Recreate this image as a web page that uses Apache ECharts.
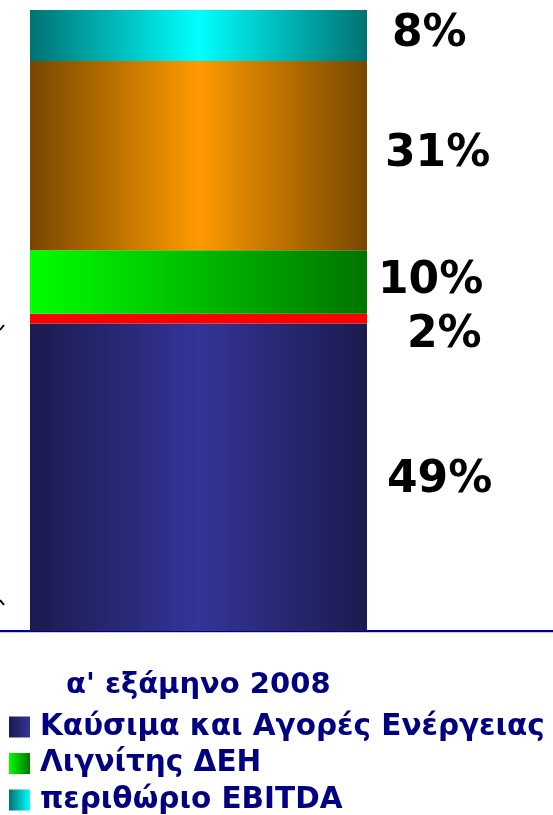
<!DOCTYPE html>
<html>
<head>
<meta charset="utf-8">
<script src="https://cdn.jsdelivr.net/npm/echarts@6/dist/echarts.min.js"></script>
<style>
  html, body { margin: 0; padding: 0; background: #fff; }
  #chart { width: 553px; height: 815px; }
</style>
</head>
<body>
<div id="chart"></div>
<script>
  // data (bottom to top)
  const categories = ['α\' εξάμηνο 2008']
  const seriesNames = ['Καύσιμα και Αγορές Ενέργειας', 'Λοιπά', 'Λιγνίτης ΔΕΗ', 'Λοιπό κόστος', 'περιθώριο EBITDA']
  const seriesValues = [49.5, 1.6, 10.2, 30.5, 8.2]
  const labelTexts = ['49%', '2%', '10%', '31%', '8%']
  const legendNames = ['Καύσιμα και Αγορές Ενέργειας', 'Λιγνίτης ΔΕΗ', 'περιθώριο EBITDA']

  const grad = (a, b, c) => new echarts.graphic.LinearGradient(0, 0, 1, 0, [
    { offset: 0, color: a },
    { offset: 0.5, color: b },
    { offset: 1, color: c }
  ])
  const grad2 = (a, b) => new echarts.graphic.LinearGradient(0, 0, 1, 0, [
    { offset: 0, color: a },
    { offset: 1, color: b }
  ])

  const colors = [
    grad('#1b1b4e', '#343499', '#1b1b4e'),
    '#ff0000',
    grad('#00ff00', '#00bb00', '#007400'),
    grad('#774700', '#ff9a00', '#774700'),
    grad('#007272', '#00ffff', '#007272')
  ]
  // label placement: distance from bar edge, vertical nudge
  const labelDist = [20, 40, 11, 18, 25]
  const labelDy = [3, 17, 0, -1, -1]

  const chart = echarts.init(document.getElementById('chart'))

  const option = {
    animation: false,
    title: {
      text: categories[0],
      left: 61,
      top: 666,
      textStyle: {
        fontFamily: 'DejaVu Sans',
        fontWeight: 'bold',
        fontSize: 29,
        color: '#000080'
      }
    },
    legend: {
      orient: 'vertical',
      left: 9,
      top: 712,
      padding: 0,
      height: 150,
      icon: 'rect',
      itemWidth: 21,
      itemHeight: 21,
      itemGap: 6.5,
      selectedMode: false,
      data: [
        { name: legendNames[0], itemStyle: { color: grad2('#1b1b4e', '#343499') } },
        { name: legendNames[1], itemStyle: { color: grad2('#00ff00', '#007400') } },
        { name: legendNames[2], itemStyle: { color: grad2('#007272', '#00ffff') } }
      ],
      textStyle: {
        fontFamily: 'DejaVu Sans',
        fontWeight: 'bold',
        fontSize: 29.5,
        color: '#000080',
        padding: [0, 0, 0, 5]
      }
    },
    grid: {
      left: 30,
      right: 186,
      top: 10,
      bottom: 184
    },
    xAxis: {
      type: 'category',
      data: categories,
      axisLine: { show: false },
      axisTick: { show: false },
      axisLabel: { show: false }
    },
    yAxis: {
      type: 'value',
      min: 0,
      max: 100,
      show: false,
      splitLine: { show: false }
    },
    graphic: [
      {
        type: 'rect',
        left: 0,
        top: 630,
        shape: { width: 553, height: 2 },
        style: { fill: '#00008b' }
      },
      {
        type: 'rect',
        left: 0,
        top: 632,
        shape: { width: 553, height: 1 },
        style: { fill: '#c8c8e8' }
      },
      {
        type: 'polyline',
        shape: { points: [[0, 330], [4, 325]] },
        style: { stroke: '#000', lineWidth: 2 }
      },
      {
        type: 'polyline',
        shape: { points: [[0, 600], [4, 605]] },
        style: { stroke: '#000', lineWidth: 2 }
      }
    ],
    series: seriesValues.map((v, i) => ({
      name: seriesNames[i],
      type: 'bar',
      stack: 'total',
      barWidth: '100%',
      itemStyle: { color: colors[i] },
      label: {
        show: true,
        position: 'right',
        distance: labelDist[i],
        offset: [0, labelDy[i]],
        formatter: () => labelTexts[i],
        fontFamily: 'DejaVu Sans',
        fontWeight: 'bold',
        fontSize: 44,
        color: '#000'
      },
      data: [v]
    }))
  }

  chart.setOption(option)
</script>
</body>
</html>
